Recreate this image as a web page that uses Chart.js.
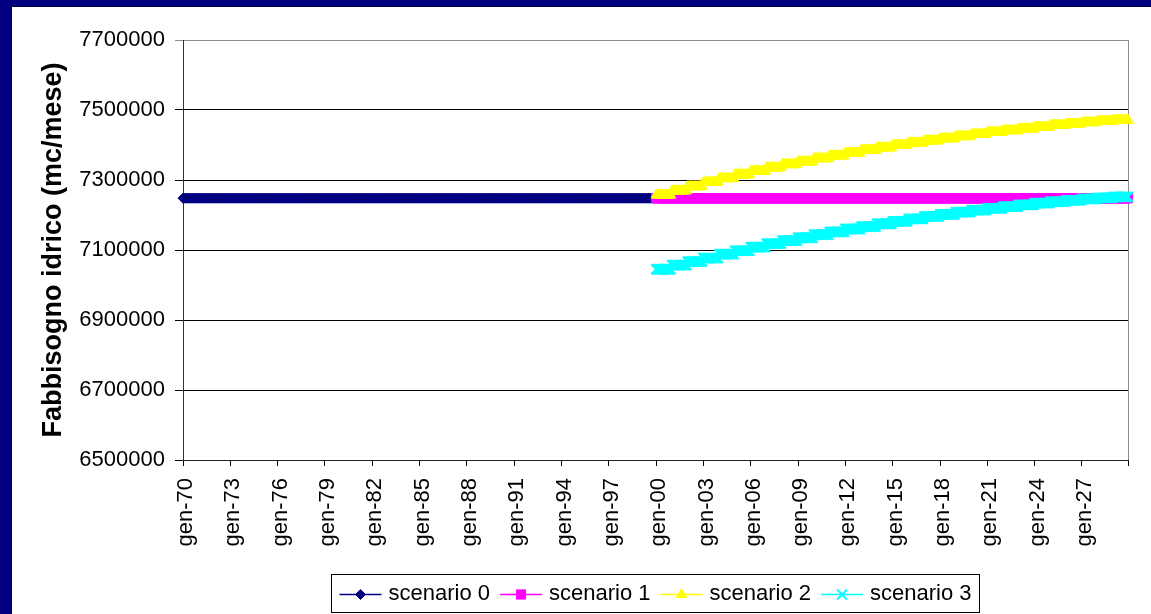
<!DOCTYPE html>
<html>
<head>
<meta charset="utf-8">
<title>Fabbisogno idrico</title>
<script src="https://cdn.jsdelivr.net/npm/chart.js@4/dist/chart.umd.min.js"></script>
<style>
  html, body { margin: 0; padding: 0; background: #fff; }
  #frame { position: relative; width: 1151px; height: 614px; overflow: hidden; background: #fff; }
  #topBar { position: absolute; left: 0; top: 0; width: 1151px; height: 7px; background: #000080; border-bottom: 1px solid #00004a; box-sizing: border-box; }
  #leftBar { position: absolute; left: 0; top: 0; width: 12px; height: 614px; background: #000080; border-right: 1px solid #00004a; box-sizing: border-box; }
  #chartBox { position: absolute; left: 12px; top: 7px; width: 1139px; height: 607px; }
</style>
</head>
<body>
<div id="frame">
  <div id="chartBox"><canvas id="waterChart" width="1139" height="607"></canvas></div>
  <div id="topBar"></div>
  <div id="leftBar"></div>
</div>
<script>
// Month names for the category labels (gen-70 ... dic-29)
const monthNames = ['gen', 'feb', 'mar', 'apr', 'mag', 'giu', 'lug', 'ago', 'set', 'ott', 'nov', 'dic'];
const firstYear = 1970;
const lastYear = 2029;
const labelEvery = 36; // one tick label every 3 years

// Yearly level of each scenario (mc/mese), held for the 12 months of the year
const scenario0 = [ // 1970 - 1999
  7248000, 7248000, 7248000, 7248000, 7248000, 7248000, 7248000, 7248000, 7248000, 7248000,
  7248000, 7248000, 7248000, 7248000, 7248000, 7248000, 7248000, 7248000, 7248000, 7248000,
  7248000, 7248000, 7248000, 7248000, 7248000, 7248000, 7248000, 7248000, 7248000, 7248000
];
const scenario1 = [ // 2000 - 2029
  7248000, 7248000, 7248000, 7248000, 7248000, 7248000, 7248000, 7248000, 7248000, 7248000,
  7248000, 7248000, 7248000, 7248000, 7248000, 7248000, 7248000, 7248000, 7248000, 7248000,
  7248000, 7248000, 7248000, 7248000, 7248000, 7248000, 7248000, 7248000, 7248000, 7248000
];
const scenario2 = [ // 2000 - 2029
  7257000, 7269000, 7281000, 7293000, 7304000, 7315000, 7325000, 7335000, 7344000, 7352000,
  7361000, 7369000, 7377000, 7385000, 7392000, 7399000, 7406000, 7412000, 7418000, 7424000,
  7430000, 7436000, 7441000, 7446000, 7451000, 7456000, 7460000, 7464000, 7468000, 7471000
];
const scenario3 = [ // 2000 - 2029
  7045000, 7057000, 7067000, 7077000, 7088000, 7098000, 7108000, 7118000, 7127000, 7135000,
  7144000, 7152000, 7160000, 7167000, 7175000, 7182000, 7189000, 7196000, 7202000, 7208000,
  7214000, 7219000, 7224000, 7229000, 7234000, 7238000, 7242000, 7246000, 7249000, 7252000
];

const yMin = 6500000;
const yMax = 7700000;
const yStep = 200000;

const labels = [];
for (let y = firstYear; y <= lastYear; y++) {
  const yy = String(y % 100).padStart(2, '0');
  monthNames.forEach(m => labels.push(m + '-' + yy));
}

// spread the yearly levels over the monthly categories
function monthly(yearly, startYear) {
  const out = labels.map(() => null);
  const offset = (startYear - firstYear) * 12;
  yearly.forEach((v, i) => {
    for (let k = 0; k < 12; k++) out[offset + i * 12 + k] = v;
  });
  return out;
}

const FONT = 'Arial, "Liberation Sans", sans-serif';
Chart.defaults.font.family = FONT;
Chart.defaults.color = '#000';

function series(label, yearly, startYear, color, style, radius, ptBorder, order) {
  return {
    label: label,
    data: monthly(yearly, startYear),
    borderColor: color,
    backgroundColor: color,
    borderWidth: 1,
    pointStyle: style,
    pointRadius: radius,
    pointBorderWidth: ptBorder,
    pointBackgroundColor: color,
    pointBorderColor: color,
    pointHoverRadius: radius,
    spanGaps: false,
    clip: false,
    order: order
  };
}

// gray frame on the right side of the plot area
const plotFrame = {
  id: 'plotFrame',
  beforeDatasetsDraw(chart) {
    const { ctx, chartArea } = chart;
    ctx.save();
    ctx.strokeStyle = '#8c8c8c';
    ctx.lineWidth = 1;
    ctx.beginPath();
    ctx.moveTo(Math.round(chartArea.right) + 0.5, chartArea.top);
    ctx.lineTo(Math.round(chartArea.right) + 0.5, chartArea.bottom);
    ctx.stroke();
    ctx.restore();
  }
};

// boxed legend with a line sample and marker for each series
const boxLegend = {
  id: 'boxLegend',
  afterDraw(chart) {
    const { ctx, chartArea } = chart;
    const lineLen = 42, gapText = 7, gapItem = 10, pad = 8;
    const yMid = 587;
    ctx.save();
    ctx.font = '22px ' + FONT;
    const items = chart.data.datasets.map(ds => ({ ds: ds, w: ctx.measureText(ds.label).width }));
    const total = items.reduce((s, it) => s + lineLen + gapText + it.w, 0) + gapItem * (items.length - 1);
    let x = (chartArea.left + chartArea.right) / 2 - total / 2;

    ctx.strokeStyle = '#000';
    ctx.lineWidth = 1;
    ctx.strokeRect(Math.round(x - pad) + 0.5, 567.5, Math.round(total + 2 * pad), 38);

    items.forEach(it => {
      const ds = it.ds;
      ctx.strokeStyle = ds.borderColor;
      ctx.fillStyle = ds.borderColor;
      ctx.lineWidth = 1.5;
      ctx.beginPath();
      ctx.moveTo(x, yMid + 0.5);
      ctx.lineTo(x + lineLen, yMid + 0.5);
      ctx.stroke();
      ctx.lineWidth = ds.pointBorderWidth;
      Chart.helpers.drawPoint(ctx, {
        pointStyle: ds.pointStyle,
        radius: ds.pointRadius,
        borderWidth: ds.pointBorderWidth,
        rotation: 0
      }, x + lineLen / 2, yMid + 0.5);
      ctx.fillStyle = '#000';
      ctx.textBaseline = 'middle';
      ctx.textAlign = 'left';
      ctx.fillText(ds.label, x + lineLen + gapText, yMid);
      x += lineLen + gapText + it.w + gapItem;
    });
    ctx.restore();
  }
};

const ctx = document.getElementById('waterChart').getContext('2d');
window.waterChart = new Chart(ctx, {
  type: 'line',
  data: {
    labels: labels,
    datasets: [
      series('scenario 0', scenario0, 1970, '#000080', 'rectRot', 5, 1, 3),
      series('scenario 1', scenario1, 2000, '#FF00FF', 'rect', 6.5, 1, 2),
      series('scenario 2', scenario2, 2000, '#FFFF00', 'triangle', 6, 1, 1),
      series('scenario 3', scenario3, 2000, '#00FFFF', 'crossRot', 7, 2, 0)
    ]
  },
  options: {
    responsive: false,
    animation: false,
    events: [],
    layout: { padding: { left: 0, top: 33, right: 23, bottom: 0 } },
    plugins: {
      legend: { display: false },
      tooltip: { enabled: false }
    },
    scales: {
      x: {
        type: 'category',
        offset: false,
        grid: { drawOnChartArea: false, drawTicks: true, tickLength: 6, color: '#000' },
        border: { color: '#222', width: 1 },
        ticks: {
          autoSkip: false,
          maxRotation: 90,
          minRotation: 90,
          padding: 12,
          labelOffset: 3,
          font: { size: 22 },
          color: '#000',
          callback: function (value, index) {
            if (index % labelEvery === 0) return this.getLabelForValue(value);
            if (index === labels.length - 1) return '';
            return null;
          }
        },
        afterFit: s => {
          s.height = 154;
          s.paddingLeft = 0;
          s.paddingRight = 0;
        }
      },
      y: {
        min: yMin,
        max: yMax,
        grid: {
          color: c => (c.tick && c.tick.value === yMax ? '#8c8c8c' : '#000'),
          tickLength: 8,
          lineWidth: 1
        },
        border: { color: '#333', width: 1 },
        ticks: {
          stepSize: yStep,
          padding: 10,
          font: { size: 22 },
          color: '#000',
          callback: v => String(v)
        },
        title: {
          display: true,
          text: 'Fabbisogno idrico (mc/mese)',
          font: { size: 27, weight: 'bold' },
          color: '#000',
          padding: { top: 25, bottom: 0 }
        },
        afterFit: s => {
          s.width = 171;
          s.paddingTop = 0;
          s.paddingBottom = 0;
        }
      }
    }
  },
  plugins: [plotFrame, boxLegend]
});
</script>
</body>
</html>
